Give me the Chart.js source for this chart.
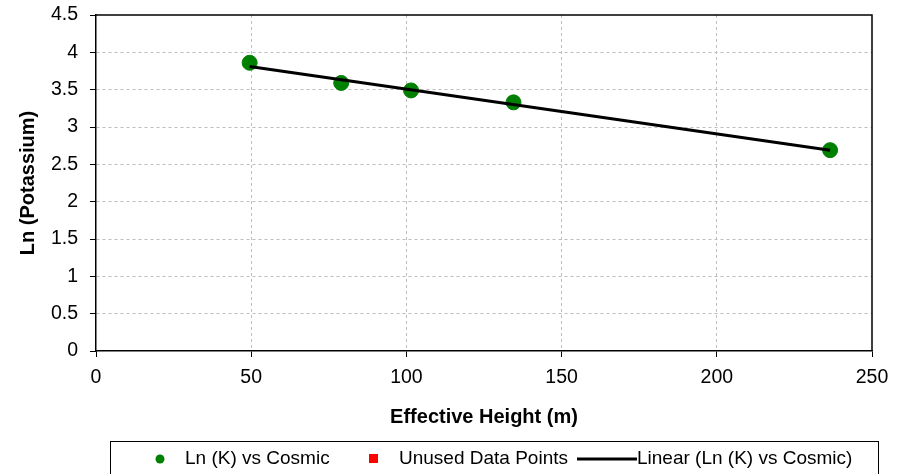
<!DOCTYPE html>
<html><head><meta charset="utf-8">
<script src="https://cdn.jsdelivr.net/npm/chart.js@4/dist/chart.umd.min.js"></script>
<style>html,body{margin:0;padding:0;background:#fff}#wrap{width:909px;height:474px;position:relative}</style>
</head><body><div id="wrap"><canvas id="c" width="909" height="474"></canvas></div>
<script>
const heights = [49.5, 79, 101.5, 134.5, 236.5];
const lnK = [3.86, 3.59, 3.49, 3.33, 2.69];
const unusedX = [];
const unusedY = [];
const trendX = [49.5, 236.5];
const trendY = [3.81, 2.69];
const xTicks = [0, 50, 100, 150, 200, 250];
const yTicks = [0, 0.5, 1, 1.5, 2, 2.5, 3, 3.5, 4, 4.5];
const labels = ['Ln (K) vs Cosmic', 'Unused Data Points', 'Linear (Ln (K) vs Cosmic)'];

const FONT = 'Liberation Sans, Arial, sans-serif';

const frame = {
  id: 'frame',
  afterDraw(chart) {
    const {ctx, chartArea: a} = chart;
    ctx.save();
    ctx.strokeStyle = '#000';
    ctx.lineWidth = 1.5;
    ctx.beginPath();
    ctx.moveTo(a.left, a.top); ctx.lineTo(a.right, a.top); ctx.lineTo(a.right, a.bottom);
    ctx.stroke();
    // legend
    ctx.strokeStyle = '#000';
    ctx.lineWidth = 1;
    ctx.strokeRect(110.5, 441.5, 768, 40);
    ctx.font = '19px ' + FONT;
    ctx.textBaseline = 'middle';
    const y = 459;
    const ds = chart.data.datasets;
    ctx.fillStyle = ds[0].backgroundColor;
    ctx.beginPath(); ctx.arc(160, y, 4.5, 0, Math.PI*2); ctx.fill();
    ctx.fillStyle = '#000'; ctx.fillText(ds[0].label, 185, y);
    ctx.fillStyle = ds[1].backgroundColor;
    ctx.fillRect(369, y-5, 9, 9);
    ctx.fillStyle = '#000'; ctx.fillText(ds[1].label, 399, y);
    ctx.strokeStyle = ds[2].borderColor; ctx.lineWidth = 3;
    ctx.beginPath(); ctx.moveTo(577, y); ctx.lineTo(637, y); ctx.stroke();
    ctx.fillStyle = '#000'; ctx.fillText(ds[2].label, 637, y);
    ctx.restore();
  }
};

new Chart(document.getElementById('c'), {
  type: 'scatter',
  data: {
    datasets: [
      {label: labels[0], data: heights.map((x,i)=>({x, y: lnK[i]})), backgroundColor: '#008000', borderColor: '#008000', pointRadius: 7.5, pointHoverRadius: 7.5, order: 1},
      {label: labels[1], data: unusedX.map((x,i)=>({x, y: unusedY[i]})), backgroundColor: '#ff0000', borderColor: '#ff0000', pointStyle: 'rect', order: 2},
      {label: labels[2], type: 'line', data: trendX.map((x,i)=>({x, y: trendY[i]})), borderColor: '#000', backgroundColor: '#000', borderWidth: 3, pointRadius: 0, showLine: true, fill: false, order: 0}
    ]
  },
  options: {
    responsive: false,
    animation: false,
    layout: {padding: {left: 0, top: 15, right: 37, bottom: 43}},
    plugins: {legend: {display: false}, tooltip: {enabled: false}},
    scales: {
      x: {
        type: 'linear', min: 0, max: 250,
        afterBuildTicks: s => { s.ticks = xTicks.map(v => ({value: v})); },
        afterFit: s => { s.height = 80; s.paddingLeft = 0; s.paddingRight = 0; },
        ticks: {color: '#000', font: {family: FONT, size: 19.5}, padding: 9, maxRotation: 0},
        grid: {color: ctx => (ctx.tick && (ctx.tick.value === 0 || ctx.tick.value === 250)) ? 'rgba(0,0,0,0)' : '#bdbdbd', tickColor: '#000', tickLength: 6, tickBorderDash: [], lineWidth: 1},
        border: {color: '#000', width: 1.5, dash: [3, 3]},
        title: {display: true, text: 'Effective Height (m)', color: '#000', font: {family: FONT, size: 20, weight: 'bold'}, padding: {top: 4, bottom: 2}}
      },
      y: {
        min: 0, max: 4.5,
        afterBuildTicks: s => { s.ticks = yTicks.map(v => ({value: v})); },
        afterFit: s => { s.width = 96; s.paddingTop = 0; s.paddingBottom = 0; },
        ticks: {color: '#000', font: {family: FONT, size: 19.5}, padding: 12, callback: v => String(v)},
        grid: {color: ctx => (ctx.tick && (ctx.tick.value === 0 || ctx.tick.value === 4.5)) ? 'rgba(0,0,0,0)' : '#bdbdbd', tickColor: '#000', tickLength: 6, tickBorderDash: [], lineWidth: 1},
        border: {color: '#000', width: 1.5, dash: [3, 3]},
        title: {display: true, text: 'Ln (Potassium)', color: '#000', font: {family: FONT, size: 20, weight: 'bold'}, padding: {top: 16, bottom: 4}}
      }
    }
  },
  plugins: [frame]
});
</script></body></html>
